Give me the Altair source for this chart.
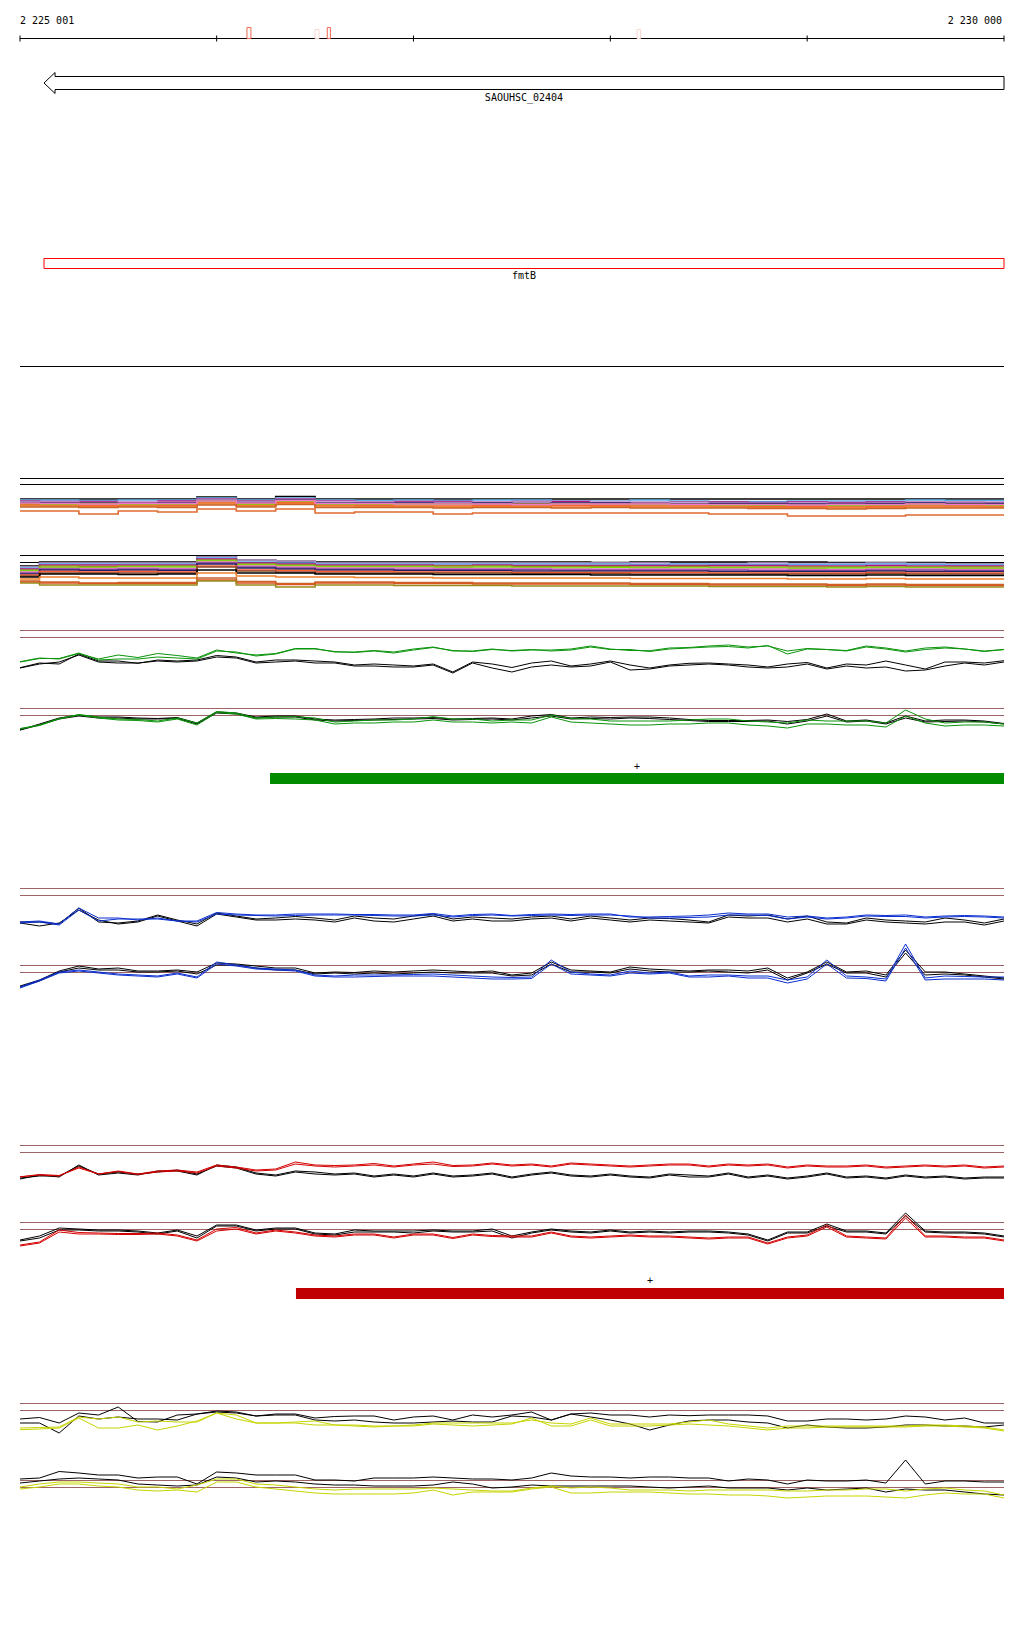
import altair as alt
import pandas as pd

M = 8  # page margin of the html page

VIEW_START = 2225001
VIEW_END = 2230000

# probe positions (every 100 bp)
POS = [
    2225001, 2225100, 2225200, 2225300, 2225400, 2225500, 2225600, 2225700, 2225800, 2225900,
    2226000, 2226100, 2226200, 2226300, 2226400, 2226500, 2226600, 2226700, 2226800, 2226900,
    2227000, 2227100, 2227200, 2227300, 2227400, 2227500, 2227600, 2227700, 2227800, 2227900,
    2228000, 2228100, 2228200, 2228300, 2228400, 2228500, 2228600, 2228700, 2228800, 2228900,
    2229000, 2229100, 2229200, 2229300, 2229400, 2229500, 2229600, 2229700, 2229800, 2229900,
    2230000,
]
BAND_POS = POS[::2]

TICKS = [2225001, 2226000, 2227000, 2228000, 2229000, 2230000]
RULER_LEFT = "2 225 001"
RULER_RIGHT = "2 230 000"

SITE_START = [2226154, 2226500, 2226562, 2228136]
SITE_END = [2226174, 2226520, 2226578, 2228154]
SITE_KIND = ["strong", "weak", "strong", "weak"]

GENE_START = 2225123
GENE_END = 2230000
GENE_ID = "SAOUHSC_02404"
GENE_NAME = "fmtB"

GREEN_BAR = (2226271, 2230000)
RED_BAR = (2226403, 2230000)

# ---------------- multi-sample bands ----------------
BAND1 = [
    [21, 21, 21, 21, 21, 23, 21, 23.5, 21, 21, 21, 21, 21, 21, 21, 21, 21, 21, 21, 21, 21, 21, 21, 21, 21, 21],
    [20, 20, 19.5, 20, 20, 22, 20, 22, 20, 19.5, 20, 19.5, 20, 20, 19, 19, 20, 19, 18.5, 18.5, 19, 19, 19, 20, 19.5, 19.5],
    [19, 18.5, 18.5, 18, 19, 21, 19, 21, 19, 18, 18.5, 18.5, 18, 18.5, 18.5, 18, 17.5, 18, 18, 17.5, 18, 17.5, 18, 18, 18, 17.5],
    [18.5, 18, 17.5, 18.5, 17.5, 20.5, 18.5, 20.5, 18.5, 18, 17.5, 17.5, 18, 18, 17, 18.5, 18, 17.5, 17, 17, 17, 16.5, 17, 18, 18, 18],
    [17.5, 17, 17, 16.5, 17, 19.5, 17.5, 20, 17, 17, 17, 16.5, 17, 16.5, 17, 17, 16.5, 16, 16.5, 16.5, 16, 16, 16.5, 17, 16.5, 16.5],
    [16.5, 16, 16.5, 15.5, 16, 19, 16.5, 19, 16, 16, 16, 16, 15.5, 16, 16, 15.5, 16, 15.5, 15, 15, 14.5, 15, 15, 16, 15.5, 15],
    [15.5, 15.5, 15, 15.5, 15, 18, 15.5, 18.5, 15.5, 15, 15.5, 15.5, 15, 15, 15.5, 15, 15, 15, 14.5, 14.5, 14, 14, 14, 15, 14.5, 14.5],
    [15, 14.5, 14.5, 14.5, 14.5, 17, 14.5, 17.5, 14.5, 14.5, 14, 14, 14.5, 14, 14.5, 14.5, 14, 14, 13.5, 13.5, 13.5, 13, 13.5, 14, 14, 13.5],
    [14, 14, 13.5, 14, 13.5, 16, 14, 16.5, 14, 13.5, 13.5, 13, 13.5, 13.5, 13, 13.5, 13, 13, 13, 12.5, 12.5, 12, 12.5, 13, 13, 13],
    [13, 13, 12.5, 13, 12.5, 15, 13, 15.5, 12.5, 12.5, 12.5, 12, 12.5, 12.5, 12, 12.5, 12, 12, 12, 11.5, 11.5, 11, 11.5, 12, 12, 12],
    [9, 9, 6, 9, 8, 11, 9, 11, 7, 8, 8, 6, 7, 7, 7, 7, 7, 7, 6, 6, 4, 4, 4, 5, 5, 5],
    [17, 16.5, 16, 16.5, 16.5, 19, 17, 19.5, 16.5, 16.5, 16, 16, 16, 15.5, 16, 16, 16, 15.5, 15.5, 15.5, 15, 15.5, 15.5, 16, 15.5, 15.5],
]
BAND1_COLORS = ["#000000", "#5aaee8", "#b0177c", "#c8a0d8", "#22225e", "#9a8a1e",
                "#72e000", "#ff5c3a", "#f0802e", "#c8642a", "#e06a30", "#f078c8"]
BAND1_REF = [41.5, 35.5]

BAND2 = [
    [24, 28, 28, 28, 28, 34, 30, 29, 28, 28, 28, 28, 28, 28, 28, 27.5, 28, 28, 28, 28, 28, 27.5, 27.5, 27.5, 27, 27],
    [23, 27, 27, 27, 27, 33, 30, 29, 27, 27, 27, 27, 27, 27, 27, 27, 27, 26.5, 26.5, 27, 26.5, 26.5, 27, 26.5, 26, 26],
    [22, 26, 26, 26, 26, 32, 28, 27, 26, 26, 26, 26, 26, 26, 26, 26, 25.5, 26, 25.5, 25.5, 25.5, 25.5, 26, 25.5, 25, 25],
    [21, 25, 25, 25, 25, 31, 27, 26, 25, 25, 25, 24.5, 25, 24.5, 24.5, 24.5, 24.5, 24.5, 24.5, 24.5, 24, 24, 24.5, 24, 24, 24],
    [20, 24, 23.5, 24, 24, 30, 26, 25, 24, 24, 24, 24, 24, 23.5, 23.5, 23.5, 23, 23.5, 23, 23, 23, 23, 23, 23, 23, 23],
    [19, 22.5, 22.5, 23, 23, 29, 25, 24, 23, 23, 23, 22.5, 23, 22.5, 22, 22.5, 22, 22, 22, 22, 21.5, 22, 22, 22, 21.5, 21.5],
    [18, 21.5, 21.5, 22, 21.5, 28, 24, 23, 22, 22, 22, 21.5, 21.5, 21.5, 21, 21, 21, 21, 21, 21, 20.5, 20.5, 21, 21, 20.5, 20.5],
    [17, 21, 20.5, 21, 20.5, 27, 23, 22, 21, 21, 20.5, 20.5, 20.5, 20.5, 20, 20, 20, 20, 20, 19.5, 19.5, 19.5, 20, 20, 19.5, 19.5],
    [16, 20, 19.5, 20, 19.5, 26, 22, 21, 20, 20, 19.5, 19.5, 19.5, 19, 19, 19, 19, 19, 18.5, 18.5, 18.5, 18.5, 19, 18.5, 18.5, 18.5],
    [15, 18.5, 18, 18.5, 18, 24, 20, 19.5, 18.5, 18.5, 18, 18, 18, 17.5, 17.5, 17.5, 17.5, 17.5, 17, 17, 17, 17, 17.5, 17, 17, 17],
    [14, 17, 17, 17, 17, 23, 19, 18, 17, 17, 17, 17, 17, 16.5, 16.5, 16.5, 16, 16, 16, 16, 16, 16, 16.5, 16, 16, 16],
    [13, 16, 16, 15.5, 16, 20, 17, 17, 16, 16, 16, 15.5, 15.5, 15.5, 15.5, 15, 15, 15, 15, 15, 14.5, 14.5, 15, 14.5, 14.5, 14.5],
    [11, 13, 12, 12, 12, 17, 14, 13, 13, 12.5, 12.5, 12, 12, 12, 12, 12, 11.5, 11.5, 11.5, 11.5, 11, 11, 11.5, 11, 11, 11],
    [9, 8, 7, 7.5, 7.5, 12, 8.5, 6.5, 8, 8, 7.5, 7.5, 7, 7, 7, 7, 6.5, 6.5, 6, 6, 6, 5.5, 6, 5.5, 5.5, 5.5],
    [8, 7, 6.5, 6.5, 6.5, 10, 7, 5.5, 7, 7, 6.5, 6.5, 6, 6, 6, 6, 5.5, 5.5, 5, 5, 5, 4.5, 5, 4.5, 4.5, 4.5],
    [7, 5, 5, 5, 5, 9, 5, 3, 5, 5, 4.5, 4.5, 4.5, 4, 4, 4, 4, 4, 3.5, 3.5, 3.5, 3, 3.5, 3, 3, 3],
]
BAND2_COLORS = ["#000000", "#c0a0d8", "#5aaee8", "#b0177c", "#9a8a1e", "#72e000", "#f078c8", "#8a4aa8",
                "#22225e", "#ff5c3a", "#8b4a2b", "#000000", "#f0802e", "#c8642a", "#d9541e", "#9a8a1e"]
BAND2_REF = [34.5, 27.5]

# ---------------- expression tracks ----------------
G1_BLACK_A = [12.3, 17, 16, 26, 19, 19, 16.7, 20, 19, 20, 24.5, 23, 18, 20, 20, 19, 18, 15, 16, 15, 14, 16, 8, 18, 16, 12.5, 17, 19, 14, 16, 19, 15, 12, 15, 16.7, 17, 16, 15, 13, 16, 17.5, 12, 16, 15, 19, 15, 11, 18, 18, 17, 19.3]
G1_BLACK_B = [12, 16, 18, 25, 18, 17, 17, 19, 18, 19, 23, 22, 17, 18, 19, 17, 17, 14, 14, 13, 13, 15, 7, 17, 12, 8, 13, 15, 13, 14, 18, 10, 11, 14, 15, 16, 15, 13, 12, 13, 16, 11, 14, 12, 13, 9, 10, 14, 17, 15, 18]
G1_GREEN_A = [18.3, 22, 21, 26.5, 21, 25, 22.5, 26.5, 24.5, 22, 30, 27, 25, 26.5, 31.5, 31.5, 28, 28, 29.5, 28, 31, 33, 29, 29, 31, 29, 30, 30, 31, 34, 31, 29.5, 29.3, 32, 32.5, 34, 35, 33, 34, 29, 31.5, 30.5, 29.5, 34, 32, 29, 32, 33, 31, 29, 30.5]
G1_GREEN_B = [18, 21.5, 21.5, 27, 20, 21, 21, 23, 22, 21, 29, 28, 24, 26, 31, 31, 28.5, 27.5, 29, 27, 30, 32.5, 29.5, 28.5, 30.5, 29.5, 30.5, 29, 30, 33, 30.5, 30.5, 28.5, 31, 32, 33, 33.5, 32, 34.5, 26, 31, 30.5, 29, 33, 31, 28, 30.5, 32, 31, 28.5, 30.5]
G1_REF = [49.5, 42.5]

G2_BLACK_A = [10, 16, 22, 25, 23, 23, 22, 21.5, 22.5, 17, 28, 27, 23, 24, 24, 21, 20, 20.5, 21, 22, 22, 22.5, 21, 21.5, 22, 21, 24, 25.5, 22, 23, 22.5, 23, 23, 22, 20.5, 19.5, 19.5, 19.5, 20, 18.5, 20.5, 26, 19, 20, 17, 24, 19, 20, 20, 19, 16.5]
G2_BLACK_B = [10, 15, 21, 24, 22, 22, 21, 21, 21.5, 16, 27, 26, 22, 23, 23, 20, 19, 19.5, 20, 20.5, 21, 21.5, 20, 20.5, 21, 20, 22, 24, 21, 21.5, 21, 22, 21.5, 20.5, 19.5, 18.5, 18.5, 18.5, 19, 16, 19, 24, 18, 19, 16, 22, 18, 18.5, 19, 18, 16]
G2_GREEN_A = [11.5, 15, 21.5, 25.5, 23, 21, 20.5, 19, 22, 17, 28.5, 27, 22, 23, 23.3, 22, 18, 19, 20, 20, 21, 23.3, 21, 21, 19, 20, 20, 25, 21.5, 21, 19, 19, 19, 19, 20, 21, 21, 19, 18, 17, 20, 19, 19, 19, 17, 30, 21, 17, 18, 18, 16]
G2_GREEN_B = [11, 14.5, 21, 25, 22, 20, 19.5, 18, 21, 15, 27.5, 26, 21, 21.5, 21, 20, 16, 17, 17, 18, 18, 20, 18, 18, 17, 18, 17, 23, 18, 17, 16, 15, 15, 16, 16, 17, 17, 15, 14, 12, 16, 16, 15, 15, 13, 24, 17, 14, 15, 15, 14]
G2_REF = [31.5, 24.5]

B1_BLACK_A = [18, 18, 16, 32, 18, 17, 19, 25, 20, 16, 27, 24, 21, 22, 23.5, 22, 20, 24, 22, 21, 24, 26, 21, 23, 22, 21, 23, 24, 21, 24, 22, 20, 22, 21.5, 20, 18, 25, 24, 25, 21, 24, 18, 17, 22, 20, 19, 18, 22, 20, 17, 21]
B1_BLACK_B = [17, 14, 17, 30, 20, 16, 18, 24, 19, 14, 26, 23, 20, 20, 21, 20, 18, 22, 19, 18, 21, 24, 19, 21, 19, 19, 21, 22, 19, 22, 20, 18, 20, 19, 18, 17, 23, 22, 22, 18, 21, 16, 16, 20, 18, 17, 16, 18, 18, 15, 19]
B1_BLUE_A = [18, 19, 16, 32, 22, 22, 20, 22, 19, 19, 27.5, 26, 25, 25, 26, 26, 26, 25.5, 25.5, 25, 25, 26.5, 24, 25.5, 26, 24.5, 25.5, 26, 25.5, 26, 26, 23, 23, 23.5, 24, 25, 27, 26, 26, 23, 24, 22, 23, 25, 24.5, 25, 23, 24, 24.5, 24, 23]
B1_BLUE_B = [17, 18, 15, 30, 19, 21, 21, 21, 19, 18, 26, 25, 24.5, 24, 24.5, 25, 25, 25, 24.5, 24, 24, 25, 23, 24.5, 25, 24, 24.5, 25, 24.5, 25, 25, 24, 22, 22, 22.5, 23, 25, 25, 24.5, 21, 23, 21, 22, 24, 23.5, 23.5, 22, 23, 23.5, 23, 22]
B1_REF = [51.5, 44.5]

B2_BLACK_A = [14, 20, 29, 34, 31, 32, 29, 29, 30, 28, 37, 36, 34, 32, 32, 27, 28, 27.5, 29, 28, 29, 30, 29, 28, 29, 25, 27, 38, 30, 29, 28, 33, 31, 30, 29, 30, 30, 29, 32, 22, 28, 38, 28, 29, 25, 50, 28, 28, 26, 24, 22]
B2_BLACK_B = [13, 19, 28, 32, 30, 30, 28, 28, 29, 26, 35, 35, 32, 30, 30, 26, 27, 26, 27, 26, 27, 28, 27, 27, 27, 24, 25, 36, 28, 28, 27, 31, 29, 28, 28, 29, 28, 27, 30, 20, 27, 36, 27, 27, 23, 47, 25, 26, 25, 23, 21]
B2_BLUE_A = [13, 20, 28, 30, 28, 26, 25, 24, 27, 23, 38, 35, 32, 31, 30, 25, 24, 25, 25, 25, 25.5, 26, 25, 24, 23, 22.5, 23, 40, 28, 26, 25, 29, 27, 28, 24, 25, 25, 24, 24, 20, 23, 40, 24, 23, 21, 56, 22, 24, 23.5, 23, 23]
B2_BLUE_B = [12, 19, 27, 29, 27, 25, 24, 23, 26, 22, 36, 34, 31, 30, 29, 24, 23, 23, 23.5, 24, 24, 24, 23, 22, 21, 21, 21.5, 36, 26, 25, 24, 27, 26, 27, 23, 23, 24, 22, 22, 17, 21, 36, 22, 21.5, 19, 52, 20, 21, 21, 21, 20]
B2_REF = [34.5, 27.5]

R1_BLACK_A = [11, 15, 13, 25, 15, 17, 15, 19, 19, 15, 25, 23, 17, 15, 19, 18, 16, 17, 14, 16, 14, 17, 14, 15, 17, 13, 16, 18, 15, 14, 16, 14, 13, 16, 15, 14, 17, 13, 15, 12, 14, 17, 13, 14, 12, 15, 13, 14, 12, 13, 13]
R1_BLACK_B = [12, 14, 14, 24, 16, 18, 16, 18, 20, 16, 24, 22, 16, 14, 18, 16, 15, 16, 13, 15, 13, 16, 13, 14, 16, 12, 15, 17, 14, 13, 15, 13, 12, 15, 13, 13, 16, 12, 14, 11, 13, 16, 12, 13, 11, 14, 12, 13, 11, 12, 12]
R1_RED_A = [13.3, 15, 14, 23, 16, 19, 16, 19, 20, 18, 25, 23, 20, 21, 28, 25, 24.5, 25, 26.5, 24, 26, 28, 24.5, 25, 27, 25, 26, 24, 27, 26, 25, 24, 25, 26, 26, 24, 26, 25, 26, 23, 25, 24, 24, 25, 23, 24, 25, 24, 25, 23, 24]
R1_RED_B = [13, 15.5, 14.5, 22, 16, 18.5, 15.5, 18, 19, 17, 24, 22, 19, 20, 26, 24, 23, 24, 25, 23, 25, 26, 23.5, 24, 26, 24, 25, 23, 26, 25, 24, 23, 24, 25, 25, 23, 25, 24, 25, 22, 24, 23, 23, 24, 22, 23, 24, 23, 24, 22, 23]
R1_REF = [44.5, 37.5]

R2_BLACK_A = [10, 14, 22, 21, 20, 20, 19, 17, 20, 14, 25, 25, 20, 22, 22, 17, 16, 20, 19, 19, 19, 20, 19, 19, 21, 14, 18, 21, 19, 18, 20, 18, 19, 18, 19, 19, 18, 16, 10, 18, 18, 26, 19, 19, 17, 37, 19, 18, 18, 17, 14]
R2_BLACK_B = [9, 12, 20, 20, 19, 19, 18, 16, 19, 12, 24, 24, 19, 21, 21, 16, 15, 18, 18, 18, 17, 19, 18, 18, 19, 12, 17, 20, 18, 17, 19, 17, 18, 17, 18, 18, 17, 15, 9, 17, 17, 24, 18, 18, 16, 34, 18, 17, 17, 16, 13]
R2_RED_A = [5, 8, 20, 17.5, 17, 16.5, 16.5, 17, 15, 10, 21, 22.5, 17, 20, 18, 15, 14, 16, 16, 13, 16, 16, 12.5, 16, 14.5, 14, 14, 18, 14, 13, 14, 15, 14, 14, 13, 12, 13, 13, 7, 13, 15, 25, 14, 13, 12, 35, 14, 14, 13, 13, 10]
R2_RED_B = [4, 7, 18, 16, 16, 15.5, 15.5, 16, 14, 9, 19, 21, 16, 19, 17, 14, 13, 15, 15, 12, 15, 15, 11.5, 15, 13.5, 13, 13, 17, 13, 12, 13, 14, 13, 13, 12, 11, 12, 12, 6, 12, 14, 23, 13, 12, 11, 32, 13, 13, 12, 12, 9]
R2_REF = [27.5, 20.5]

Y1_BLACK_A = [21, 22.5, 17, 27, 25, 33, 18.5, 18, 25, 26, 28, 27, 24, 26, 26, 22, 23.5, 24, 24, 20, 23, 24, 20, 25, 23, 25, 28, 20, 26, 27, 25, 25, 23, 25, 24.3, 25, 25, 25, 24, 19, 19, 21, 21, 20, 21, 24, 23, 20, 22, 17, 17]
Y1_BLACK_B = [17, 17, 7, 24, 21, 23, 21, 21, 20, 26, 29, 28, 24, 25, 25, 20, 19, 20, 18, 17, 17, 18, 19, 18, 18, 24, 23, 20, 26, 23, 20, 16, 10, 15, 19, 20, 20, 18, 17, 12, 15, 13, 12, 12, 13, 15, 15, 14, 14, 13, 15]
Y1_YELLOW_A = [12, 12.5, 13, 23, 21, 23, 18, 19, 18, 18, 27, 25, 17, 17, 18, 19, 15, 15, 14, 14, 15, 17, 17, 17, 17, 17, 20, 17, 16, 22, 16, 16, 16, 16, 18, 20, 16, 14, 12, 14, 14, 14, 14, 14, 14, 14, 15, 15, 14, 13, 10]
Y1_YELLOW_B = [10.3, 11, 12, 22, 12, 12, 15, 10, 14, 19, 27, 21, 17, 17, 17, 15, 15, 14, 13, 14, 14, 16, 15, 14, 15, 16, 22, 14, 14, 20, 14, 14, 14, 15, 16, 15, 14, 12, 10, 12, 12, 13, 13, 13, 13, 13, 14, 14, 13, 12, 9]
Y1_REF = [36.5, 29.5]

Y2_BLACK_A = [31, 32, 38.5, 37, 35, 35, 32, 33, 33, 26, 38, 37, 35, 35, 35, 30, 30, 29, 32, 32, 32, 33, 32, 31, 31, 30, 32, 37, 34, 33, 33, 32, 33, 33, 32, 32, 29, 31, 30, 26, 30, 29, 29, 30, 27, 50, 26, 29, 29, 28, 28]
Y2_BLACK_B = [27, 29, 31, 32, 31, 30, 26, 25, 24, 25, 33, 32, 28, 29, 28, 26, 25, 25, 24, 24, 24, 25, 28, 26, 22, 23, 25, 24, 24, 24, 24, 24, 23, 22, 23, 24, 22, 22, 22, 20, 22, 20, 21, 22, 18, 21, 20, 20, 18, 16, 15]
Y2_YELLOW_A = [23, 26, 28, 28, 27, 26, 23, 23, 21, 25, 31, 31, 26, 25, 23, 21, 20, 21, 21, 21, 21, 22, 21, 20, 19, 19, 22, 24, 22, 23, 22, 20, 20, 20, 19, 20, 20, 20, 20, 19, 19, 20, 20, 21, 21, 19, 21, 22, 20, 19, 15]
Y2_YELLOW_B = [21, 23, 26, 26, 24, 23, 20, 19, 20, 18, 28, 28, 23, 21, 19, 17, 16, 16, 16, 16, 17, 20, 15, 18, 18, 18, 21, 23, 17, 17, 18, 18, 18, 17, 16, 16, 15, 15, 14, 12, 13, 14, 14, 14, 13, 12, 15, 17, 16, 16, 12]
Y2_REF = [29.5, 22.5]

# ---------------- styles / layout ----------------
BLACK = "#000000"
GREEN = "#0a940a"
BLUE = "#0a2ed0"
RED = "#d40000"
YELLOW = "#c6d400"
REF_COLOR = "#9c6464"
FONT = "DejaVu Sans Mono"

XS = alt.Scale(domain=[VIEW_START, VIEW_END], range=[20 - M, 1004 - M], nice=False, zero=False)


def xenc(field):
    return alt.X(f"{field}:Q", scale=XS, axis=None)


def track_scale(base_page):
    y0 = base_page - M
    return alt.Scale(domain=[0, 100], range=[y0, y0 - 100], nice=False, zero=False)


layers = []

# ruler
span_df = pd.DataFrame({"start": [VIEW_START], "end": [VIEW_END]})
layers.append(alt.Chart(span_df).mark_rule(color=BLACK, strokeWidth=1).encode(
    x=xenc("start"), x2="end:Q", y=alt.value(38.5 - M)))
layers.append(alt.Chart(pd.DataFrame({"pos": TICKS})).mark_rule(color=BLACK, strokeWidth=1).encode(
    x=xenc("pos"), y=alt.value(35.5 - M), y2=alt.value(41.5 - M)))
layers.append(alt.Chart(pd.DataFrame({"pos": [VIEW_START], "t": [RULER_LEFT]})).mark_text(
    font=FONT, fontSize=10, align="left", baseline="middle", color=BLACK).encode(
    x=xenc("pos"), y=alt.value(20.5 - M), text="t:N"))
layers.append(alt.Chart(pd.DataFrame({"pos": [VIEW_END], "t": [RULER_RIGHT]})).mark_text(
    font=FONT, fontSize=10, align="right", baseline="middle", color=BLACK, dx=-2).encode(
    x=xenc("pos"), y=alt.value(20.5 - M), text="t:N"))

site_df = pd.DataFrame({"start": SITE_START, "end": SITE_END, "kind": SITE_KIND})
layers.append(alt.Chart(site_df).transform_filter(alt.datum.kind == "strong").mark_rect(
    fillOpacity=0, stroke="#f26a4f", strokeWidth=1).encode(
    x=xenc("start"), x2="end:Q", y=alt.value(27.5 - M), y2=alt.value(38.5 - M)))
layers.append(alt.Chart(site_df).transform_filter(alt.datum.kind == "weak").mark_rect(
    fillOpacity=0, stroke="#f7d6cc", strokeWidth=1).encode(
    x=xenc("start"), x2="end:Q", y=alt.value(29.5 - M), y2=alt.value(38.5 - M)))

# gene arrow (minus strand)
HEAD_BP = 56
BODY = 0.62
hb = GENE_START + HEAD_BP
arrow_df = pd.DataFrame({
    "pos": [GENE_END, hb, hb, GENE_START, hb, hb, GENE_END, GENE_END],
    "v": [BODY, BODY, 1, 0, -1, -BODY, -BODY, BODY],
    "k": list(range(8)),
})
layers.append(alt.Chart(arrow_df).mark_line(color=BLACK, strokeWidth=1).encode(
    x=xenc("pos"),
    y=alt.Y("v:Q", scale=alt.Scale(domain=[-1, 1], range=[93.5 - M, 72.5 - M], nice=False, zero=False), axis=None),
    order="k:Q"))
gene_df = pd.DataFrame({"start": [GENE_START], "end": [GENE_END],
                        "mid": [(GENE_START + GENE_END) / 2], "id": [GENE_ID], "name": [GENE_NAME]})
layers.append(alt.Chart(gene_df).mark_text(font=FONT, fontSize=10, baseline="middle", color=BLACK).encode(
    x=xenc("mid"), y=alt.value(97.5 - M), text="id:N"))
layers.append(alt.Chart(gene_df).mark_rect(fillOpacity=0, stroke="#ff0000", strokeWidth=1).encode(
    x=xenc("start"), x2="end:Q", y=alt.value(258.5 - M), y2=alt.value(268.5 - M)))
layers.append(alt.Chart(gene_df).mark_text(font=FONT, fontSize=10, baseline="middle", color=BLACK).encode(
    x=xenc("mid"), y=alt.value(276 - M), text="name:N"))

# separator
layers.append(alt.Chart(span_df).mark_rule(color=BLACK, strokeWidth=1).encode(
    x=xenc("start"), x2="end:Q", y=alt.value(366.5 - M)))


def band_layers(lines, colors, refs, base_page):
    rows = []
    for i, (vals, col) in enumerate(zip(lines, colors)):
        for p, v in zip(BAND_POS, vals):
            rows.append({"pos": p, "signal": v, "series": f"s{i:02d}", "col": col})
    df = pd.DataFrame(rows)
    ysc = track_scale(base_page)
    ref_df = pd.DataFrame({"signal": refs, "start": VIEW_START, "end": VIEW_END})
    return [
        alt.Chart(ref_df).mark_rule(color=BLACK, strokeWidth=1).encode(
            x=xenc("start"), x2="end:Q", y=alt.Y("signal:Q", scale=ysc, axis=None)),
        alt.Chart(df).mark_line(strokeWidth=1.6, interpolate="step").encode(
            x=xenc("pos"), y=alt.Y("signal:Q", scale=ysc, axis=None),
            color=alt.Color("col:N", scale=None), detail="series:N"),
    ]


def track_layers(lines, refs, base_page):
    rows = []
    for i, (vals, col) in enumerate(lines):
        for p, v in zip(POS, vals):
            rows.append({"pos": p, "signal": v, "series": f"s{i}", "col": col})
    df = pd.DataFrame(rows)
    ysc = track_scale(base_page)
    ref_df = pd.DataFrame({"signal": refs, "start": VIEW_START, "end": VIEW_END})
    return [
        alt.Chart(ref_df).mark_rule(color=REF_COLOR, strokeWidth=1).encode(
            x=xenc("start"), x2="end:Q", y=alt.Y("signal:Q", scale=ysc, axis=None)),
        alt.Chart(df).mark_line(strokeWidth=1).encode(
            x=xenc("pos"), y=alt.Y("signal:Q", scale=ysc, axis=None),
            color=alt.Color("col:N", scale=None), detail="series:N"),
    ]


layers += band_layers(BAND1, BAND1_COLORS, BAND1_REF, 520)
layers += band_layers(BAND2, BAND2_COLORS, BAND2_REF, 590)

layers += track_layers([(G1_BLACK_A, BLACK), (G1_BLACK_B, BLACK), (G1_GREEN_A, GREEN), (G1_GREEN_B, GREEN)], G1_REF, 680)
layers += track_layers([(G2_BLACK_A, BLACK), (G2_BLACK_B, BLACK), (G2_GREEN_A, GREEN), (G2_GREEN_B, GREEN)], G2_REF, 740)
layers += track_layers([(B1_BLACK_A, BLACK), (B1_BLACK_B, BLACK), (B1_BLUE_A, BLUE), (B1_BLUE_B, BLUE)], B1_REF, 940)
layers += track_layers([(B2_BLACK_A, BLACK), (B2_BLACK_B, BLACK), (B2_BLUE_A, BLUE), (B2_BLUE_B, BLUE)], B2_REF, 1000)
layers += track_layers([(R1_BLACK_A, BLACK), (R1_BLACK_B, BLACK), (R1_RED_A, RED), (R1_RED_B, RED)], R1_REF, 1190)
layers += track_layers([(R2_BLACK_A, BLACK), (R2_BLACK_B, BLACK), (R2_RED_A, RED), (R2_RED_B, RED)], R2_REF, 1250)
layers += track_layers([(Y1_BLACK_A, BLACK), (Y1_BLACK_B, BLACK), (Y1_YELLOW_A, YELLOW), (Y1_YELLOW_B, YELLOW)], Y1_REF, 1440)
layers += track_layers([(Y2_BLACK_A, BLACK), (Y2_BLACK_B, BLACK), (Y2_YELLOW_A, YELLOW), (Y2_YELLOW_B, YELLOW)], Y2_REF, 1510)

# transcript bars with strand marks
gbar = pd.DataFrame({"start": [GREEN_BAR[0]], "end": [GREEN_BAR[1]],
                     "mid": [(GREEN_BAR[0] + GREEN_BAR[1]) / 2], "s": ["+"]})
layers.append(alt.Chart(gbar).mark_rect(color="#008c00").encode(
    x=xenc("start"), x2="end:Q", y=alt.value(773 - M), y2=alt.value(784 - M)))
layers.append(alt.Chart(gbar).mark_text(font=FONT, fontSize=10, baseline="middle", color=BLACK).encode(
    x=xenc("mid"), y=alt.value(766.5 - M), text="s:N"))
rbar = pd.DataFrame({"start": [RED_BAR[0]], "end": [RED_BAR[1]],
                     "mid": [(RED_BAR[0] + RED_BAR[1]) / 2], "s": ["+"]})
layers.append(alt.Chart(rbar).mark_rect(color="#c00000").encode(
    x=xenc("start"), x2="end:Q", y=alt.value(1288 - M), y2=alt.value(1299 - M)))
layers.append(alt.Chart(rbar).mark_text(font=FONT, fontSize=10, baseline="middle", color=BLACK).encode(
    x=xenc("mid"), y=alt.value(1280.5 - M), text="s:N"))

chart = alt.layer(*layers).resolve_scale(y="independent").properties(
    width=1008, height=1624, autosize=alt.AutoSizeParams(type="none"), padding=0,
    background="white",
).configure_view(strokeWidth=0)

chart.save("out.html", embed_options={"renderer": "svg", "actions": False})
